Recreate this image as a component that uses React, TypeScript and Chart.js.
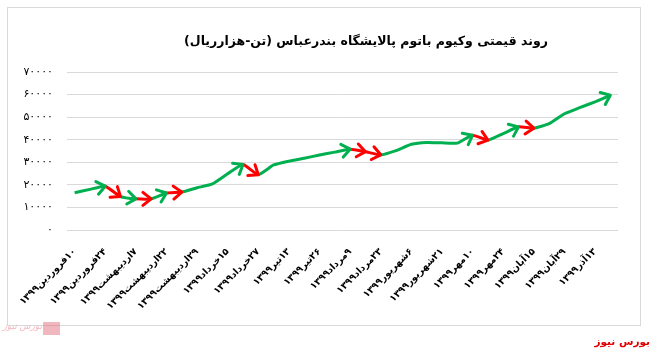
import React, { useEffect, useRef } from 'react';
import { Chart, registerables } from 'chart.js';

Chart.register(...registerables);

// ---- data ----
const titleText = 'روند قیمتی وکیوم باتوم پالایشگاه بندرعباس (تن-هزارریال)';
const sourceText = 'بورس نیوز';

// date labels shown on every other category
const dateLabels = [
  '۱۰فروردین۱۳۹۹',
  '۲۴فروردین۱۳۹۹',
  '۷اردیبهشت۱۳۹۹',
  '۲۲اردیبهشت۱۳۹۹',
  '۲۹اردیبهشت۱۳۹۹',
  '۱۵خرداد۱۳۹۹',
  '۲۷خرداد۱۳۹۹',
  '۱۳تیر۱۳۹۹',
  '۲۶تیر۱۳۹۹',
  '۹مرداد۱۳۹۹',
  '۲۳مرداد۱۳۹۹',
  '۶شهریور۱۳۹۹',
  '۲۱شهریور۱۳۹۹',
  '۱۰مهر۱۳۹۹',
  '۲۴مهر۱۳۹۹',
  '۱۵آبان۱۳۹۹',
  '۲۹آبان۱۳۹۹',
  '۱۳آذر۱۳۹۹',
];

// price (thousand rial per tonne)
const prices = [
  16500, 18000, 19400, 14800, 13800, 13800, 16400, 16800, 18700, 20400,
  24900, 29000, 24500, 28800, 30500, 31800, 33200, 34500, 35800, 34700,
  33300, 35200, 38000, 38800, 38600, 38500, 42000, 39800, 42700, 45700,
  45100, 47100, 51500, 54200, 56800, 59700,
];

const yTickValues = [0, 10000, 20000, 30000, 40000, 50000, 60000, 70000];

// points where a rising (green) / falling (red) arrow ends
const riseArrowEnds = [2, 4, 6, 11, 18, 26, 29, 35];
const fallArrowEnds = [3, 5, 7, 12, 19, 20, 27, 30];

// ---- helpers ----
const faDigits = '۰۱۲۳۴۵۶۷۸۹';
const toFa = (v: number | string) => String(v).replace(/\d/g, (d) => faDigits[+d]);

const categories = prices.map((_, i) => (i % 2 === 0 ? dateLabels[i / 2] : ''));

const GREEN = '#00B050';
const RED = '#FF0000';
const FONT = "'DejaVu Sans', sans-serif";

const decorPlugin = {
  id: 'decor',
  beforeDraw(chart: any) {
    const ctx = chart.ctx;
    ctx.save();
    ctx.fillStyle = '#ffffff';
    ctx.fillRect(0, 0, chart.width, chart.height);
    ctx.strokeStyle = '#d9d9d9';
    ctx.lineWidth = 1;
    ctx.strokeRect(7.5, 7.5, 633, 318);
    ctx.restore();
  },
  afterDatasetsDraw(chart: any) {
    const ctx = chart.ctx;
    const meta = chart.getDatasetMeta(0);
    const drawHead = (idx: number, color: string) => {
      const p = meta.data[idx];
      const q = meta.data[idx - 1];
      if (!p || !q) return;
      const ang = Math.atan2(p.y - q.y, p.x - q.x);
      const len = 10.5;
      const spread = (38 * Math.PI) / 180;
      ctx.save();
      ctx.strokeStyle = color;
      ctx.lineWidth = 3;
      ctx.lineCap = 'round';
      ctx.lineJoin = 'round';
      ctx.beginPath();
      ctx.moveTo(p.x - len * Math.cos(ang - spread), p.y - len * Math.sin(ang - spread));
      ctx.lineTo(p.x, p.y);
      ctx.lineTo(p.x - len * Math.cos(ang + spread), p.y - len * Math.sin(ang + spread));
      ctx.stroke();
      ctx.restore();
    };
    riseArrowEnds.forEach((i) => drawHead(i, GREEN));
    fallArrowEnds.forEach((i) => drawHead(i, RED));
  },
  afterDraw(chart: any) {
    const ctx = chart.ctx;
    ctx.save();
    ctx.direction = 'rtl';
    ctx.fillStyle = '#000000';
    ctx.font = `bold 12.5px ${FONT}`;
    ctx.textAlign = 'center';
    ctx.textBaseline = 'middle';
    ctx.fillText(titleText, 366, 42);

    ctx.fillStyle = '#e00000';
    ctx.font = `bold 10.5px ${FONT}`;
    ctx.textAlign = 'right';
    ctx.fillText(sourceText, 650, 342);

    // faint watermark logo
    ctx.globalAlpha = 0.45;
    ctx.fillStyle = '#e0606e';
    ctx.fillRect(43, 322, 17, 13);
    ctx.font = `italic 9px ${FONT}`;
    ctx.fillText(sourceText, 42, 327);
    ctx.restore();
  },
};

export default function App() {
  const ref = useRef<HTMLCanvasElement | null>(null);
  useEffect(() => {
    if (!ref.current) return;
    const chart = new Chart(ref.current, {
      type: 'line',
      data: {
        labels: categories,
        datasets: [
          {
            data: prices,
            borderColor: GREEN,
            borderWidth: 3,
            pointRadius: 0,
            tension: 0.15,
            fill: false,
            segment: {
              borderColor: (c: any) => (fallArrowEnds.includes(c.p1DataIndex) ? RED : GREEN),
            },
          },
        ],
      },
      options: {
        responsive: false,
        animation: false,
        devicePixelRatio: 1,
        layout: { padding: { top: 72, right: 41, bottom: 0, left: 0 } },
        plugins: {
          legend: { display: false },
          title: { display: false },
          tooltip: { enabled: false },
        },
        scales: {
          x: {
            offset: true,
            grid: { display: false, drawTicks: false },
            border: { display: false },
            ticks: {
              autoSkip: false,
              maxRotation: 45,
              minRotation: 45,
              padding: 16,
              color: '#000000',
              font: { family: FONT, size: 9.5, weight: 'bold' },
            },
            afterFit: (s: any) => {
              s.height = 123;
            },
          },
          y: {
            min: 0,
            max: 70000,
            afterBuildTicks: (s: any) => {
              s.ticks = yTickValues.map((v) => ({ value: v }));
            },
            grid: { color: '#d9d9d9', lineWidth: 1, drawTicks: false },
            border: { display: false },
            ticks: {
              padding: 14,
              color: '#000000',
              font: { family: FONT, size: 11 },
              callback: (v: any) => toFa(v),
            },
            afterFit: (s: any) => {
              s.width = 67;
            },
          },
        },
      },
      plugins: [decorPlugin],
    });
    return () => chart.destroy();
  }, []);

  return (
    <div style={{ position: 'fixed', left: 0, top: 0, width: 659, height: 353, background: '#fff' }}>
      <canvas ref={ref} width={659} height={353} dir="rtl" style={{ display: 'block' }} />
    </div>
  );
}
